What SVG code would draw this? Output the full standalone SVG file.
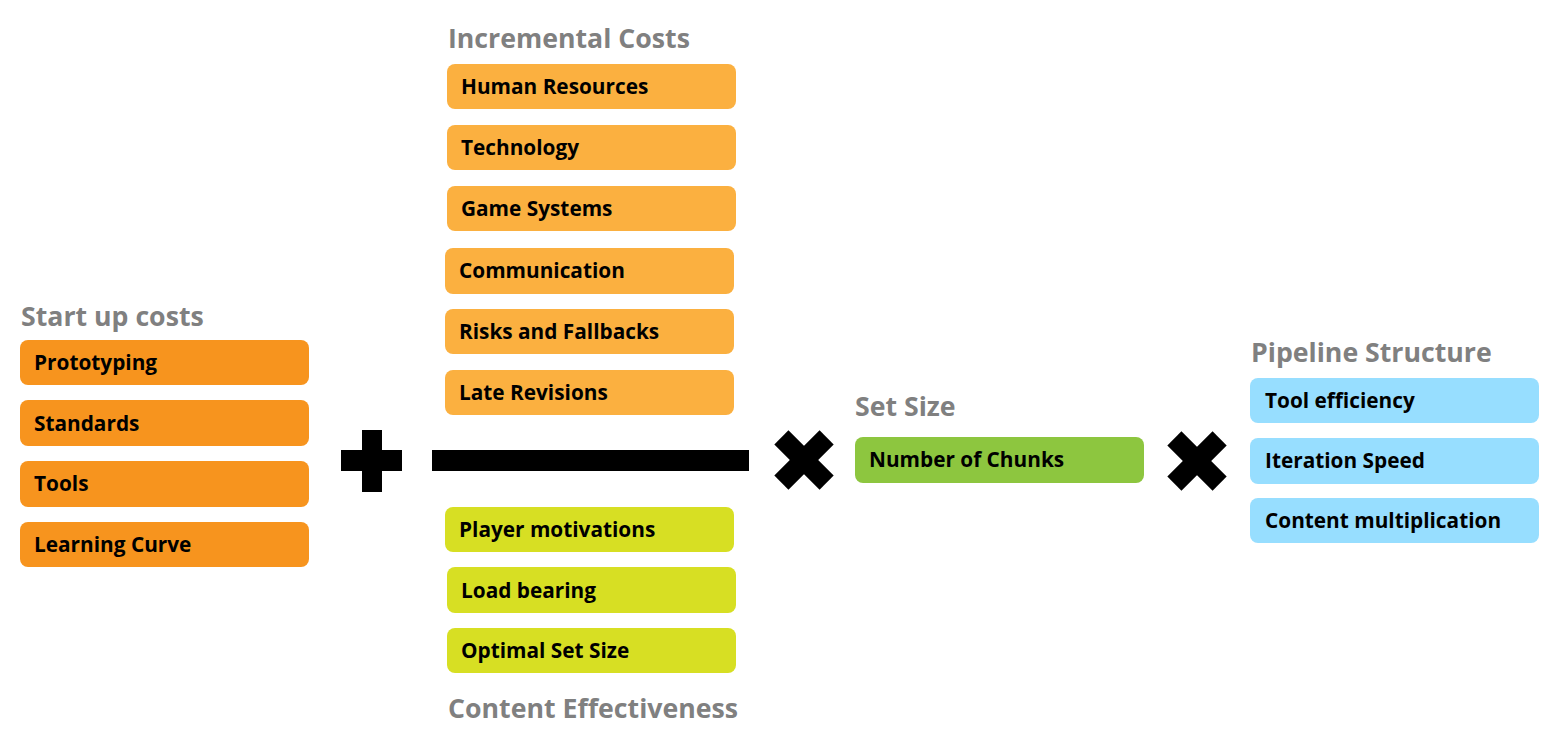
<svg xmlns="http://www.w3.org/2000/svg" width="1548" height="732" viewBox="0 0 1548 732">
<style>
.t{font-family:"Open Sans","Noto Sans","DejaVu Sans",sans-serif;font-weight:700;font-size:26.7px;fill:#808080}
.l{font-family:"Open Sans","Noto Sans","DejaVu Sans",sans-serif;font-weight:700;font-size:20.8px;fill:#000}
.a{fill:#F7941E}.b{fill:#FBB040}.c{fill:#D7DF23}.d{fill:#8DC63F}.e{fill:#97DEFF}
</style>
<rect width="1548" height="732" fill="#fff"/>
<g id="startup">
<text class="t" x="21" y="326">Start up costs</text>
<g id="n-prototyping"><rect class="a" x="20" y="340" width="289" height="45" rx="8"/><text class="l" x="34" y="370">Prototyping</text></g>
<g id="n-standards"><rect class="a" x="20" y="400" width="289" height="46" rx="8"/><text class="l" x="34" y="431">Standards</text></g>
<g id="n-tools"><rect class="a" x="20" y="461" width="289" height="46" rx="8"/><text class="l" x="34" y="491">Tools</text></g>
<g id="n-learning"><rect class="a" x="20" y="522" width="289" height="45" rx="8"/><text class="l" x="34" y="552">Learning Curve</text></g>
</g>
<g id="incremental">
<text class="t" x="448" y="48">Incremental Costs</text>
<g id="n-human"><rect class="b" x="447" y="64" width="289" height="45" rx="8"/><text class="l" x="461" y="94">Human Resources</text></g>
<g id="n-tech"><rect class="b" x="447" y="125" width="289" height="45" rx="8"/><text class="l" x="461" y="155">Technology</text></g>
<g id="n-game"><rect class="b" x="447" y="186" width="289" height="45" rx="8"/><text class="l" x="461" y="216">Game Systems</text></g>
<g id="n-comm"><rect class="b" x="445" y="248" width="289" height="46" rx="8"/><text class="l" x="459" y="278">Communication</text></g>
<g id="n-risks"><rect class="b" x="445" y="309" width="289" height="45" rx="8"/><text class="l" x="459" y="339">Risks and Fallbacks</text></g>
<g id="n-late"><rect class="b" x="445" y="370" width="289" height="45" rx="8"/><text class="l" x="459" y="400">Late Revisions</text></g>
</g>
<g id="effectiveness">
<g id="n-player"><rect class="c" x="445" y="507" width="289" height="45" rx="8"/><text class="l" x="459" y="537">Player motivations</text></g>
<g id="n-load"><rect class="c" x="447" y="567" width="289" height="46" rx="8"/><text class="l" x="461" y="598">Load bearing</text></g>
<g id="n-optimal"><rect class="c" x="447" y="628" width="289" height="45" rx="8"/><text class="l" x="461" y="658">Optimal Set Size</text></g>
<text class="t" x="448" y="718">Content Effectiveness</text>
</g>
<g id="setsize">
<text class="t" x="855" y="416">Set Size</text>
<g id="n-chunks"><rect class="d" x="855" y="437" width="289" height="46" rx="8"/><text class="l" x="869" y="467">Number of Chunks</text></g>
</g>
<g id="pipeline">
<text class="t" x="1251" y="362">Pipeline Structure</text>
<g id="n-toolEff"><rect class="e" x="1250" y="378" width="289" height="45" rx="8"/><text class="l" x="1265" y="408">Tool efficiency</text></g>
<g id="n-iter"><rect class="e" x="1250" y="438" width="289" height="46" rx="8"/><text class="l" x="1265" y="468">Iteration Speed</text></g>
<g id="n-content"><rect class="e" x="1250" y="498" width="289" height="45" rx="8"/><text class="l" x="1265" y="528">Content multiplication</text></g>
</g>
<g id="operators" fill="#000">
<rect x="362" y="430" width="20" height="62"/>
<rect x="341" y="450" width="61" height="21"/>
<rect x="432" y="450" width="317" height="21"/>
<g transform="translate(804 460) rotate(45)"><rect x="-10" y="-32" width="20" height="64"/><rect x="-32" y="-10" width="64" height="20"/></g>
<g transform="translate(1197 461) rotate(45)"><rect x="-10" y="-32" width="20" height="64"/><rect x="-32" y="-10" width="64" height="20"/></g>
</g>
</svg>
